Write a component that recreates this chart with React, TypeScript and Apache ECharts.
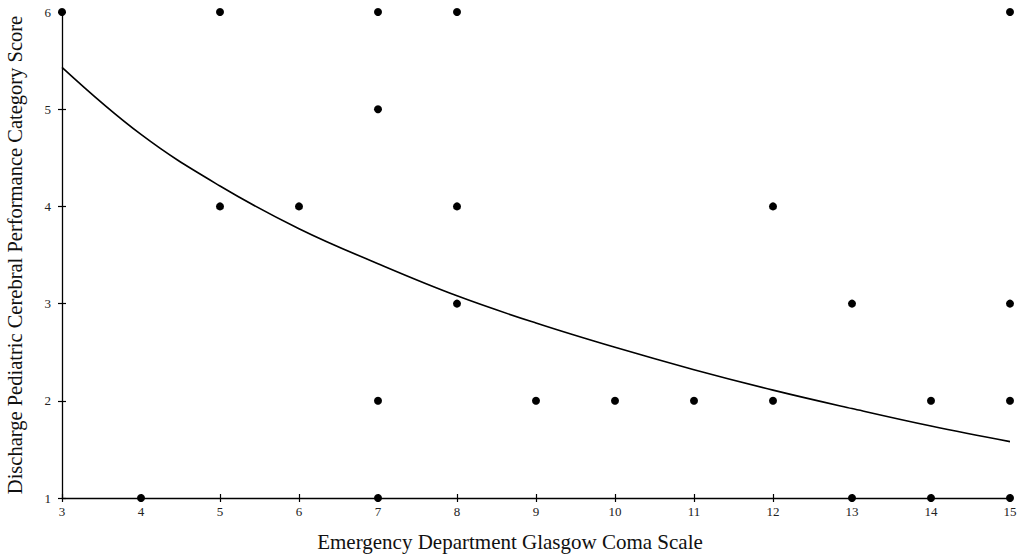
import React, { useEffect, useRef } from "react";
import * as echarts from "echarts";

const xTicks = [3, 4, 5, 6, 7, 8, 9, 10, 11, 12, 13, 14, 15];
const yTicks = [1, 2, 3, 4, 5, 6];

const pointsGCS = [3, 5, 7, 8, 15, 7, 5, 6, 8, 12, 8, 13, 15, 7, 9, 10, 11, 12, 14, 15, 4, 7, 13, 14, 15];
const pointsPCPC = [6, 6, 6, 6, 6, 5, 4, 4, 4, 4, 3, 3, 3, 2, 2, 2, 2, 2, 2, 2, 1, 1, 1, 1, 1];

const curveX = [3, 4, 5, 6, 7, 8, 9, 10, 11, 12, 13, 14, 15];
const curveY = [5.43, 4.74, 4.21, 3.77, 3.41, 3.08, 2.8, 2.55, 2.32, 2.11, 1.92, 1.74, 1.58];

const FONT = "Liberation Serif";

export default function App() {
  const ref = useRef<HTMLDivElement>(null);
  useEffect(() => {
    if (!ref.current) return;
    const chart = echarts.init(ref.current, undefined, { renderer: "svg" });
    const axisLine = { show: true, onZero: false, lineStyle: { color: "#000", width: 1.3 } };
    const tickStyle = { color: "#000", width: 1.2 };
    chart.setOption({
      animation: false,
      backgroundColor: "#fff",
      grid: { left: 62, right: 11, top: 12, bottom: 59, containLabel: false, outerBoundsMode: "none" },
      xAxis: [
        {
          type: "value",
          min: xTicks[0],
          max: xTicks[xTicks.length - 1],
          interval: 1,
          name: "Emergency Department Glasgow Coma Scale",
          nameLocation: "middle",
          nameGap: 33,
          nameTextStyle: { fontFamily: FONT, fontSize: 21, color: "#111", padding: [0, 52, 0, 0] },
          axisLine,
          axisTick: { show: true, length: 4, lineStyle: tickStyle },
          axisLabel: { fontFamily: FONT, fontSize: 13, color: "#222", margin: 7 },
          splitLine: { show: false },
        },
        {
          type: "value",
          min: xTicks[0],
          max: xTicks[xTicks.length - 1],
          interval: 1,
          position: "bottom",
          axisLine: { show: false },
          axisTick: { show: true, inside: true, length: 4, lineStyle: tickStyle },
          axisLabel: { show: false },
          splitLine: { show: false },
        },
      ],
      yAxis: [
        {
          type: "value",
          min: yTicks[0],
          max: yTicks[yTicks.length - 1],
          interval: 1,
          name: "Discharge Pediatric Cerebral Performance Category Score",
          nameLocation: "middle",
          nameGap: 37,
          nameTextStyle: { fontFamily: FONT, fontSize: 20.5, color: "#111" },
          axisLine,
          axisTick: { show: true, length: 4, lineStyle: tickStyle },
          axisLabel: { fontFamily: FONT, fontSize: 13, color: "#222", margin: 11 },
          splitLine: { show: false },
        },
        {
          type: "value",
          min: yTicks[0],
          max: yTicks[yTicks.length - 1],
          interval: 1,
          position: "left",
          axisLine: { show: false },
          axisTick: { show: true, inside: true, length: 4, lineStyle: tickStyle },
          axisLabel: { show: false },
          splitLine: { show: false },
        },
      ],
      series: [
        {
          type: "line",
          data: curveX.map((x, i) => [x, curveY[i]]),
          smooth: 0.4,
          showSymbol: false,
          lineStyle: { color: "#000", width: 1.6 },
          z: 2,
        },
        {
          type: "scatter",
          data: pointsGCS.map((x, i) => [x, pointsPCPC[i]]),
          symbol: "circle",
          symbolSize: 8,
          itemStyle: { color: "#000", opacity: 1 },
          clip: false,
          z: 3,
        },
      ],
    });
    return () => chart.dispose();
  }, []);
  return <div ref={ref} style={{ width: 1021, height: 557, position: "absolute", left: 0, top: 0 }} />;
}
